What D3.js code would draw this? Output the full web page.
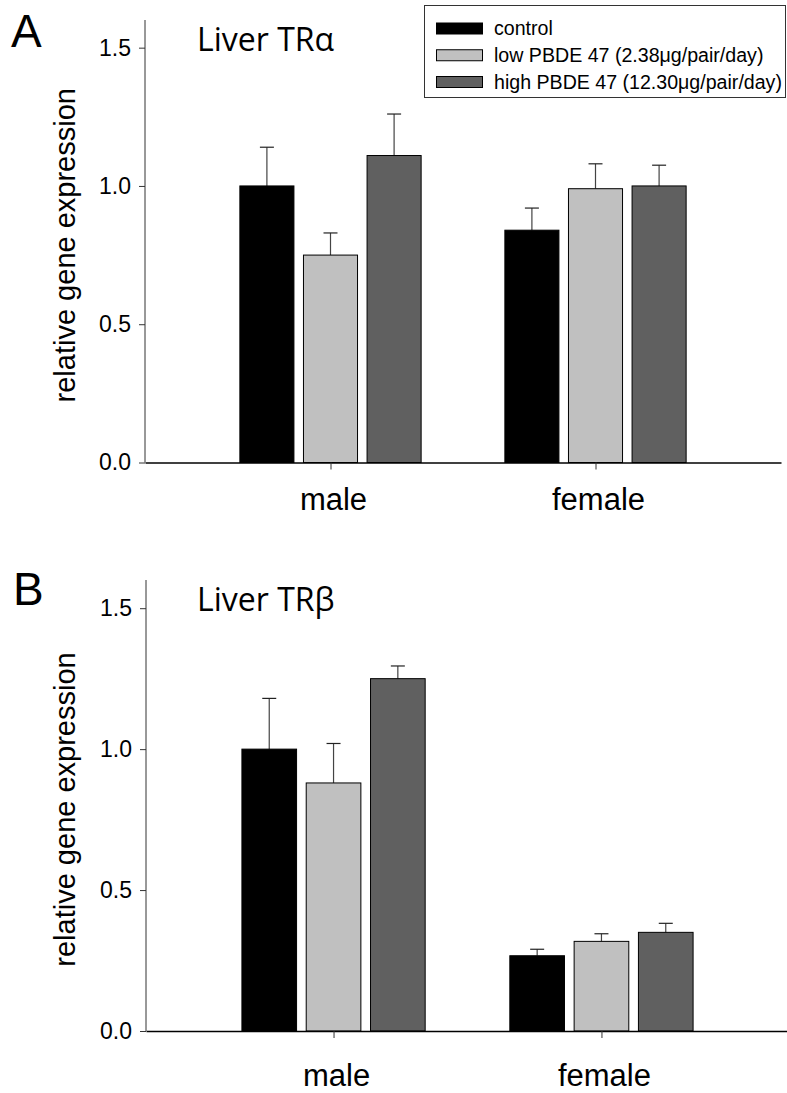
<!DOCTYPE html>
<html>
<head>
<meta charset="utf-8">
<script src="https://cdn.jsdelivr.net/npm/d3@7"></script>
<style>
	body { margin: 0; background: #fff; }
	svg { display: block; font-family: "Liberation Sans", Arial, sans-serif; }
</style>
</head>
<body>
<div id="chart"></div>
<script>
// values
const sexes = ['male', 'female'];
const treatments = ['control', 'low PBDE 47 (2.38\u03bcg/pair/day)', 'high PBDE 47 (12.30\u03bcg/pair/day)'];
const colors = ['#000000', '#c0c0c0', '#606060'];
const yTicks = [0, 0.5, 1.0, 1.5];

// Liver TRα, rows = sex, cols = treatment
const alphaMean = [[1.00, 0.75, 1.11], [0.84, 0.99, 1.00]];
const alphaErr = [[0.14, 0.08, 0.15], [0.08, 0.09, 0.075]];

// Liver TRβ
const betaMean = [[1.00, 0.88, 1.25], [0.267, 0.318, 0.35]];
const betaErr = [[0.18, 0.14, 0.045], [0.023, 0.027, 0.032]];

const width = 787, height = 1093;

const svg = d3.select('#chart').append('svg')
	.attr('width', width)
	.attr('height', height);

/*
	draws one panel: axes, grouped bars and error caps
*/
function drawPanel(opts){
	const g = svg.append('g');

	const y = d3.scaleLinear()
		.domain([0, 1.6])
		.range([opts.bottom, opts.top]);

	const x = d3.scalePoint()
		.domain(sexes)
		.range([opts.left, opts.right])
		.padding(0.7);

	const step = x.step();
	const inner = d3.scaleBand()
		.domain(treatments)
		.range([-0.342 * step, 0.342 * step])
		.paddingInner(0.15);

	// y axis
	const yAxis = g.append('g')
		.attr('transform', `translate(${opts.left},0)`)
		.call(d3.axisLeft(y).tickValues(yTicks).tickFormat(d3.format('.1f')).tickSize(6).tickPadding(8));
	yAxis.select('.domain').attr('stroke', '#333');
	yAxis.selectAll('.tick line').attr('stroke', '#333');
	yAxis.selectAll('.tick text')
		.attr('font-size', 23)
		.attr('font-family', '"Liberation Sans", Arial, sans-serif')
		.attr('fill', '#000');
	// domain without outer tick at the top
	yAxis.select('.domain').attr('d', `M0,${y(1.6)}V${y(0)}`);

	// bars
	const rows = [];
	opts.mean.forEach((row, i) => {
		row.forEach((v, j) => {
			rows.push({sex: sexes[i], trt: treatments[j], color: colors[j], v: v, e: opts.err[i][j]});
		});
	});

	const bars = g.append('g').selectAll('g')
		.data(rows)
		.enter()
			.append('g');

	// error bars first so the bar outline sits on top
	bars.append('line')
		.attr('x1', d => x(d.sex) + inner(d.trt) + inner.bandwidth() / 2)
		.attr('x2', d => x(d.sex) + inner(d.trt) + inner.bandwidth() / 2)
		.attr('y1', d => y(d.v))
		.attr('y2', d => y(d.v + d.e))
		.attr('stroke', '#444')
		.attr('stroke-width', 1.2);
	bars.append('line')
		.attr('x1', d => x(d.sex) + inner(d.trt) + inner.bandwidth() / 2 - 7)
		.attr('x2', d => x(d.sex) + inner(d.trt) + inner.bandwidth() / 2 + 7)
		.attr('y1', d => y(d.v + d.e))
		.attr('y2', d => y(d.v + d.e))
		.attr('stroke', '#222')
		.attr('stroke-width', 1.2);

	bars.append('rect')
		.attr('x', d => x(d.sex) + inner(d.trt))
		.attr('width', inner.bandwidth())
		.attr('y', d => y(d.v))
		.attr('height', d => y(0) - y(d.v))
		.style('fill', d => d.color)
		.style('stroke', '#000')
		.style('stroke-width', 1);

	// x axis
	const xAxis = g.append('g')
		.attr('transform', `translate(0,${opts.bottom})`)
		.call(d3.axisBottom(x).tickSize(7).tickSizeOuter(0).tickFormat(''));
	xAxis.select('.domain').attr('stroke', '#000').attr('stroke-width', 1.6);
	xAxis.selectAll('.tick line').attr('stroke', '#333');

	g.selectAll('.catlabel')
		.data(sexes)
		.enter()
			.append('text')
			.attr('x', d => x(d) + 3)
			.attr('y', opts.catY)
			.attr('text-anchor', 'middle')
			.attr('font-size', 31)
			.text(d => d);

	// y label
	g.append('text')
		.attr('transform', `translate(75,${(y(0) + y(1.6)) / 2 + 4}) rotate(-90)`)
		.attr('text-anchor', 'middle')
		.attr('font-size', 29)
		.text('relative gene expression');

	// title inside plot
	g.append('text')
		.attr('x', 197)
		.attr('y', opts.titleY)
		.attr('font-family', '"Open Sans", "Noto Sans", sans-serif')
		.attr('font-size', 32)
		.text(opts.title);

	// panel letter
	g.append('text')
		.attr('x', opts.letterX)
		.attr('y', opts.letterY)
		.attr('font-size', 46)
		.text(opts.letter);
}

drawPanel({top: 20, bottom: 462.5, left: 145, right: 781, mean: alphaMean, err: alphaErr,
	title: 'Liver TR\u03b1', titleY: 51, letter: 'A', letterX: 11, letterY: 47, catY: 510});
drawPanel({top: 580, bottom: 1031, left: 146, right: 789, mean: betaMean, err: betaErr,
	title: 'Liver TR\u03b2', titleY: 611, letter: 'B', letterX: 13, letterY: 605, catY: 1086});

// legend
const legend = svg.append('g').classed('legend', true);
legend.append('rect')
	.attr('x', 424.5)
	.attr('y', 5.5)
	.attr('width', 361)
	.attr('height', 92)
	.attr('fill', '#fff')
	.attr('stroke', '#333');

const rowY = d3.scalePoint().domain(treatments).range([28.5, 82]);

treatments.forEach((t, i) => {
	legend.append('rect')
		.attr('x', 436.5)
		.attr('y', rowY(t) - 5.5)
		.attr('width', 46)
		.attr('height', 11)
		.attr('fill', colors[i])
		.attr('stroke', '#000');
	legend.append('text')
		.attr('x', 494)
		.attr('y', rowY(t) + 6.5)
		.attr('font-size', 19.6)
		.text(t);
});
</script>
</body>
</html>
